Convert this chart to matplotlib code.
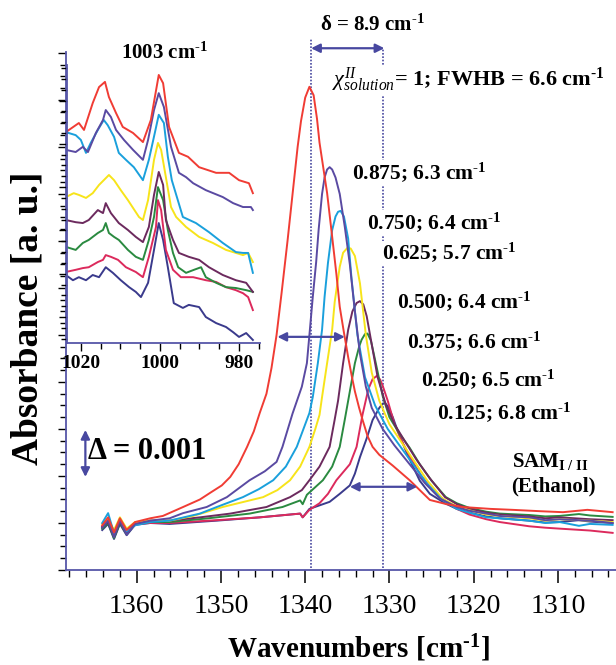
import numpy as np
import matplotlib.pyplot as plt
from matplotlib.ticker import MultipleLocator

plt.rcParams['font.family'] = ['Liberation Serif', 'DejaVu Serif']
plt.rcParams['mathtext.fontset'] = 'custom'
plt.rcParams['mathtext.rm'] = 'Liberation Serif'
plt.rcParams['mathtext.it'] = 'Liberation Serif:italic'
plt.rcParams['mathtext.bf'] = 'Liberation Serif:bold'

# main band: (wavenumber [cm-1], absorbance in units of 0.001)
main_1000 = [(1364.1, 0.95), (1363.4, 1.12), (1362.7, 0.80), (1362.0, 1.10), (1361.2, 0.85), (1360.2, 1.02),
             (1358.4, 1.10), (1356.9, 1.15), (1354.5, 1.34), (1352.5, 1.50), (1351.3, 1.64), (1349.9, 1.80),
             (1348.9, 1.98), (1347.9, 2.25), (1346.9, 2.62), (1346.1, 2.95), (1345.4, 3.34), (1344.6, 3.75),
             (1344.0, 4.30), (1343.4, 5.00), (1342.8, 5.90), (1342.1, 7.00), (1341.5, 8.00), (1340.9, 9.00),
             (1340.5, 9.55), (1340.0, 10.05), (1339.5, 10.28), (1339.0, 10.10), (1338.6, 9.60), (1338.3, 9.09),
             (1337.4, 8.02), (1336.8, 7.09), (1336.3, 6.30), (1335.9, 5.60), (1335.4, 5.05), (1334.9, 4.53),
             (1334.5, 4.15), (1334.1, 3.80), (1333.6, 3.45), (1333.2, 3.20), (1332.6, 2.85), (1332.0, 2.62),
             (1331.2, 2.45), (1329.6, 2.22), (1327.6, 1.91), (1325.2, 1.49), (1323.2, 1.40), (1321.3, 1.34),
             (1318.0, 1.30), (1315.4, 1.28), (1312.0, 1.25), (1309.4, 1.23), (1306.5, 1.28), (1303.5, 1.23)]
main_875 = [(1364.1, 0.90), (1363.4, 1.05), (1362.7, 0.70), (1362.0, 1.05), (1361.2, 0.75), (1360.2, 0.98),
            (1358.4, 1.05), (1356.1, 1.10), (1354.5, 1.21), (1351.7, 1.34), (1349.3, 1.55), (1346.6, 1.91),
            (1344.8, 2.10), (1343.4, 2.30), (1342.7, 2.62), (1341.5, 3.33), (1340.4, 3.90), (1339.8, 4.40),
            (1339.5, 5.00), (1339.1, 5.81), (1338.7, 6.55), (1338.4, 7.25), (1338.0, 8.00), (1337.7, 8.35),
            (1337.4, 8.52), (1337.1, 8.57), (1336.8, 8.52), (1336.4, 8.35), (1335.9, 8.00), (1335.3, 7.30),
            (1334.7, 6.50), (1334.1, 5.50), (1333.5, 4.60), (1332.8, 3.90), (1332.1, 3.45), (1330.8, 3.00),
            (1329.4, 2.65), (1327.6, 2.25), (1325.8, 1.85), (1324.0, 1.52), (1322.0, 1.34), (1320.5, 1.26),
            (1318.5, 1.20), (1316.9, 1.15), (1313.4, 1.12), (1311.5, 1.06), (1309.8, 1.08), (1306.2, 1.05),
            (1303.5, 1.00)]
main_750 = [(1364.1, 1.00), (1363.4, 1.21), (1362.7, 0.78), (1362.0, 1.08), (1361.2, 0.82), (1360.2, 0.95),
            (1358.4, 1.02), (1356.1, 1.05), (1352.5, 1.20), (1350.5, 1.34), (1347.4, 1.55), (1345.5, 1.72),
            (1343.8, 1.91), (1342.3, 2.20), (1341.0, 2.62), (1339.5, 3.34), (1339.1, 3.68), (1338.5, 4.40),
            (1338.0, 5.11), (1337.7, 5.81), (1337.3, 6.53), (1336.8, 7.23), (1336.4, 7.52), (1336.1, 7.62),
            (1335.8, 7.64), (1335.4, 7.52), (1334.9, 7.05), (1334.5, 6.20), (1333.8, 5.00), (1332.9, 4.10),
            (1331.7, 3.50), (1330.2, 3.00), (1328.8, 2.65), (1327.2, 2.25), (1325.6, 1.85), (1323.8, 1.50),
            (1322.0, 1.30), (1320.5, 1.22), (1318.5, 1.12), (1316.9, 1.10), (1313.4, 1.05), (1311.5, 1.00),
            (1309.8, 1.02), (1307.5, 0.94), (1306.2, 0.98), (1303.5, 0.96)]
main_625 = [(1364.1, 0.98), (1363.4, 1.08), (1362.7, 0.85), (1362.0, 1.12), (1361.2, 0.88), (1360.2, 1.02),
            (1358.4, 1.05), (1356.1, 1.05), (1353.3, 1.15), (1349.8, 1.34), (1345.0, 1.55), (1343.3, 1.70),
            (1341.8, 1.91), (1340.6, 2.20), (1339.5, 2.62), (1338.8, 3.00), (1338.3, 3.30), (1338.0, 3.68),
            (1337.4, 4.40), (1336.8, 5.11), (1336.5, 5.70), (1335.9, 6.45), (1335.5, 6.75), (1335.0, 6.85),
            (1334.6, 6.84), (1334.1, 6.68), (1333.5, 6.10), (1332.8, 5.00), (1332.1, 4.20), (1331.2, 3.60),
            (1330.0, 3.10), (1328.5, 2.70), (1327.0, 2.30), (1325.5, 1.90), (1323.7, 1.52), (1322.0, 1.35),
            (1320.5, 1.27), (1318.5, 1.18), (1316.9, 1.15), (1313.4, 1.10), (1311.5, 1.05), (1309.8, 1.08),
            (1306.2, 1.05), (1303.5, 1.02)]
main_500 = [(1364.1, 0.92), (1363.4, 1.02), (1362.7, 0.72), (1362.0, 1.02), (1361.2, 0.78), (1360.2, 1.00),
            (1358.4, 1.05), (1356.1, 1.05), (1352.5, 1.12), (1348.9, 1.20), (1344.6, 1.34), (1341.8, 1.55),
            (1340.4, 1.70), (1339.5, 1.91), (1338.3, 2.20), (1337.1, 2.62), (1336.5, 3.20), (1336.1, 3.60),
            (1335.5, 4.40), (1334.9, 5.11), (1334.4, 5.50), (1333.9, 5.68), (1333.5, 5.72), (1333.1, 5.65),
            (1332.7, 5.40), (1332.1, 4.80), (1331.4, 4.10), (1330.4, 3.50), (1329.4, 3.10), (1328.2, 2.75),
            (1326.8, 2.35), (1325.2, 1.95), (1323.4, 1.55), (1322.0, 1.40), (1320.5, 1.30), (1318.5, 1.22),
            (1316.9, 1.18), (1313.4, 1.14), (1311.5, 1.10), (1309.8, 1.12), (1306.2, 1.08), (1303.5, 1.06)]
main_375 = [(1364.1, 0.88), (1363.4, 1.00), (1362.7, 0.68), (1362.0, 1.00), (1361.2, 0.76), (1360.2, 0.98),
            (1358.4, 1.02), (1356.1, 1.02), (1351.5, 1.10), (1346.6, 1.20), (1342.7, 1.34), (1340.6, 1.48),
            (1340.3, 1.40), (1339.8, 1.60), (1337.9, 1.91), (1336.8, 2.20), (1335.9, 2.62), (1335.3, 3.20),
            (1334.8, 3.70), (1334.1, 4.40), (1333.6, 4.75), (1333.3, 4.90), (1332.9, 5.02), (1332.6, 5.03),
            (1332.2, 4.88), (1331.8, 4.55), (1331.5, 4.30), (1330.8, 3.70), (1330.0, 3.25), (1328.8, 2.90),
            (1327.6, 2.60), (1326.4, 2.25), (1325.0, 1.90), (1323.3, 1.55), (1322.0, 1.42), (1320.5, 1.32),
            (1318.5, 1.24), (1316.9, 1.20), (1313.4, 1.17), (1311.5, 1.14), (1309.8, 1.15), (1307.5, 1.19),
            (1306.2, 1.16), (1303.5, 1.13)]
main_250 = [(1364.1, 0.90), (1363.4, 1.08), (1362.7, 0.74), (1362.0, 1.04), (1361.2, 0.80), (1360.2, 0.98),
            (1358.4, 1.00), (1356.1, 1.00), (1350.5, 1.06), (1345.4, 1.12), (1340.6, 1.20), (1340.3, 1.12),
            (1339.5, 1.28), (1338.3, 1.42), (1337.3, 1.62), (1336.3, 1.91), (1334.7, 2.25), (1333.9, 2.62),
            (1333.2, 3.30), (1332.5, 3.85), (1332.0, 4.06), (1331.5, 4.13), (1331.1, 4.05), (1330.8, 3.92),
            (1330.2, 3.60), (1329.4, 3.10), (1328.4, 2.70), (1327.4, 2.35), (1326.2, 2.00), (1324.9, 1.70),
            (1323.2, 1.45), (1322.0, 1.30), (1320.5, 1.18), (1318.5, 1.08), (1316.9, 1.02), (1313.4, 0.93),
            (1311.5, 0.90), (1309.8, 0.88), (1306.2, 0.84), (1303.5, 0.79)]
main_125 = [(1364.1, 0.85), (1363.4, 0.98), (1362.7, 0.66), (1362.0, 0.98), (1361.2, 0.74), (1360.2, 0.96),
            (1358.4, 1.00), (1356.1, 0.98), (1350.5, 1.05), (1345.4, 1.12), (1340.6, 1.20), (1340.3, 1.12),
            (1339.5, 1.30), (1337.1, 1.45), (1335.9, 1.62), (1334.7, 1.80), (1334.1, 2.05), (1333.5, 2.40),
            (1332.7, 2.80), (1332.0, 3.19), (1331.2, 3.45), (1330.8, 3.54), (1330.5, 3.55), (1330.1, 3.46),
            (1329.6, 3.25), (1329.1, 3.00), (1328.2, 2.60), (1327.2, 2.20), (1326.4, 1.90), (1325.2, 1.62),
            (1323.4, 1.42), (1322.0, 1.30), (1320.5, 1.22), (1318.5, 1.14), (1316.9, 1.10), (1313.4, 1.05),
            (1311.5, 1.01), (1309.8, 1.02), (1307.5, 1.06), (1306.2, 1.03), (1303.5, 1.00)]

# inset 1003 cm-1 band: (wavenumber, offset absorbance)
ins_1000 = [(1023.8, 4.27), (1020.5, 4.48), (1019.2, 4.32), (1017.0, 4.94), (1015.4, 5.31), (1013.9, 5.43),
            (1012.9, 5.08), (1011.1, 4.71), (1009.4, 4.39), (1006.8, 4.25), (1004.3, 4.04), (1002.3, 4.55),
            (1000.3, 5.59), (999.2, 5.40), (997.7, 4.39), (995.2, 3.79), (992.9, 3.70), (990.1, 3.46),
            (985.8, 3.33), (982.5, 3.33), (980.0, 3.16), (977.5, 3.09), (976.5, 2.86)]
ins_875 = [(1023.8, 3.86), (1021.3, 3.81), (1019.5, 3.93), (1018.2, 3.81), (1016.2, 4.25), (1014.4, 4.55),
           (1013.7, 4.78), (1012.4, 4.62), (1011.1, 4.32), (1009.1, 4.09), (1006.8, 3.86), (1004.3, 3.63),
           (1003.0, 4.09), (1001.5, 4.78), (1000.3, 5.17), (999.0, 4.85), (997.2, 3.93), (995.2, 3.33),
           (993.4, 3.23), (991.6, 3.09), (988.4, 2.93), (984.1, 2.77), (981.5, 2.63), (979.0, 2.54),
           (977.0, 2.54), (976.5, 2.47)]
ins_750 = [(1023.8, 4.27), (1021.3, 4.20), (1020.0, 4.09), (1018.7, 3.79), (1017.5, 4.02), (1015.7, 4.32),
           (1014.2, 4.55), (1013.2, 4.43), (1011.6, 4.16), (1010.4, 3.79), (1008.6, 3.63), (1006.6, 3.46),
           (1004.3, 3.16), (1002.8, 3.63), (1001.3, 4.25), (1000.3, 4.67), (999.0, 4.48), (998.0, 3.70),
           (997.0, 3.16), (994.2, 2.31), (990.9, 2.17), (987.6, 1.96), (984.1, 1.71), (980.8, 1.50),
           (979.0, 1.48), (977.7, 1.48), (976.5, 1.02)]
ins_625 = [(1023.8, 2.77), (1021.8, 2.86), (1020.5, 2.82), (1018.7, 2.75), (1017.0, 2.86), (1015.4, 3.05),
           (1014.2, 3.16), (1012.9, 3.28), (1011.6, 3.16), (1009.9, 2.93), (1008.1, 2.70), (1005.3, 2.31),
           (1004.3, 2.24), (1003.0, 2.70), (1001.5, 3.63), (1000.5, 4.02), (999.7, 3.86), (998.5, 3.23),
           (997.2, 2.54), (995.9, 2.31), (993.4, 2.08), (990.1, 1.85), (986.6, 1.71), (983.3, 1.55),
           (980.8, 1.48), (979.0, 1.43), (977.7, 1.48), (976.5, 1.27)]
ins_500 = [(1023.8, 2.24), (1021.3, 2.19), (1019.5, 2.17), (1018.0, 2.24), (1015.7, 2.47), (1014.4, 2.40),
           (1013.7, 2.63), (1012.4, 2.40), (1010.4, 2.17), (1008.1, 2.01), (1006.1, 1.85), (1004.3, 1.73),
           (1002.8, 2.08), (1001.5, 2.82), (1000.3, 3.35), (999.2, 3.05), (998.5, 2.24), (996.7, 1.78),
           (995.2, 1.48), (992.7, 1.39), (990.1, 1.32), (987.6, 1.15), (984.1, 0.97), (980.8, 0.85),
           (978.2, 0.79), (976.5, 0.58)]
ins_375 = [(1023.8, 1.62), (1021.3, 1.55), (1019.5, 1.71), (1018.0, 1.78), (1015.7, 1.94), (1014.4, 2.01),
           (1013.7, 2.17), (1012.9, 1.94), (1011.6, 1.85), (1010.4, 1.78), (1008.1, 1.55), (1006.1, 1.39),
           (1004.3, 1.32), (1002.8, 1.78), (1001.5, 2.31), (1000.5, 3.00), (999.2, 2.70), (998.0, 2.01),
           (996.7, 1.48), (995.4, 1.15), (993.4, 1.02), (991.4, 1.09), (989.6, 1.15), (988.4, 0.92),
           (985.8, 0.79), (983.3, 0.69), (980.8, 0.67), (978.2, 0.62), (976.5, 0.58)]
ins_250 = [(1023.8, 1.04), (1021.3, 1.09), (1019.5, 1.13), (1018.0, 1.15), (1015.7, 1.27), (1014.4, 1.32),
           (1013.7, 1.43), (1012.4, 1.39), (1010.6, 1.32), (1008.6, 1.15), (1006.1, 1.04), (1004.3, 0.92),
           (1002.8, 1.39), (1001.0, 2.08), (1000.5, 2.70), (999.7, 2.47), (998.5, 1.55), (996.7, 1.09),
           (994.7, 0.92), (991.6, 0.92), (988.4, 0.85), (985.8, 0.81), (983.3, 0.69), (980.8, 0.62),
           (979.0, 0.55), (977.7, 0.46), (976.5, 0.16)]
ins_125 = [(1023.8, 0.97), (1022.0, 0.85), (1020.5, 0.92), (1018.7, 0.85), (1017.0, 0.97), (1015.4, 0.92),
           (1013.7, 1.15), (1011.9, 1.02), (1009.9, 0.85), (1007.8, 0.69), (1006.1, 0.58), (1004.8, 0.46),
           (1003.0, 0.79), (1001.5, 1.55), (1000.3, 2.17), (999.2, 1.78), (998.0, 1.15), (996.5, 0.32),
           (994.2, 0.21), (992.7, 0.28), (990.1, 0.23), (988.4, 0.00), (985.8, -0.14), (983.3, -0.23),
           (981.5, -0.35), (980.0, -0.46), (978.2, -0.37), (976.5, -0.53)]

fractions = ['0.875', '0.750', '0.625', '0.500', '0.375', '0.250', '0.125']
fwhb = ['6.3', '6.4', '5.7', '6.4', '6.6', '6.5', '6.8']

main_series = [main_1000, main_875, main_750, main_625, main_500, main_375, main_250, main_125]
inset_series = [ins_1000, ins_875, ins_750, ins_625, ins_500, ins_375, ins_250, ins_125]
colors = ['#f03c34', '#5a4aa2', '#1aa0dc', '#f7e41a', '#6c2a5e', '#2a8a40', '#dc2a5c', '#3a3a8c']
arrow_c = '#4848a0'
spine_c = '#5656a8'
cm1 = 'cm$^{\\mathbf{\u2010 1}}$'   # cm^-1 with a short hyphen

fig = plt.figure(figsize=(6.16, 6.65), dpi=100)
ax = fig.add_axes([66 / 616, 95 / 665, 550 / 616, 518 / 665])

for s, c in list(zip(main_series, colors))[::-1]:
    d = np.array(s)
    ax.plot(d[:, 0], d[:, 1], color=c, lw=1.4, zorder=3)

ax.set_xlim(1368.4, 1303.1)
ax.set_ylim(0, 11.02)
ax.xaxis.set_major_locator(MultipleLocator(10))
ax.xaxis.set_minor_locator(MultipleLocator(2))
ax.yaxis.set_major_locator(MultipleLocator(1))
ax.yaxis.set_minor_locator(MultipleLocator(0.25))
ax.tick_params(axis='x', which='major', length=9, width=1.1, pad=8, labelsize=20, direction='out')
ax.tick_params(axis='x', which='minor', length=5, width=1.0, direction='out')
ax.tick_params(axis='y', which='major', length=6, width=1.0, direction='out', labelleft=False)
ax.tick_params(axis='y', which='minor', length=4, width=1.0, direction='out')
for side in ['top', 'right']:
    ax.spines[side].set_visible(False)
for side in ['left', 'bottom']:
    ax.spines[side].set_color(spine_c)
    ax.spines[side].set_linewidth(1.3)

# dotted guide lines and arrows
dot = dict(color=arrow_c, ls=(0, (1, 1)), lw=1.2, clip_on=False, zorder=1)
ax.plot([1339.3, 1339.3], [0.05, 11.32], **dot)
ax.plot([1330.8, 1330.8], [0.05, 11.1], **dot)
arr = dict(arrowstyle='<|-|>', color=arrow_c, lw=1.6, mutation_scale=13, shrinkA=0, shrinkB=0)
ax.annotate('', xy=(1330.6, 11.1), xytext=(1339.3, 11.1), arrowprops=arr, annotation_clip=False)
ax.annotate('', xy=(1335.3, 4.96), xytext=(1343.3, 4.96), arrowprops=arr, zorder=4)
ax.annotate('', xy=(1326.7, 1.77), xytext=(1334.7, 1.77), arrowprops=arr, zorder=4)
ax.annotate('', xy=(1366.1, 1.98), xytext=(1366.1, 2.98), arrowprops=arr)

box = dict(facecolor='white', edgecolor='none', pad=0.5)
ax.text(1332.0, 11.6, 'δ = 8.9 ' + cm1, fontsize=15, fontweight='bold',
        ha='center', va='center', clip_on=False)
ax.text(1336.8, 10.43, '$\\chi^{II}_{solution}$= 1; FWHB = 6.6 ' + cm1, fontsize=16,
        fontweight='bold', ha='left', va='center', bbox=box, zorder=5)
label_pos = [(1334.5, 8.45), (1332.7, 7.38), (1330.9, 6.74), (1329.1, 5.70),
             (1327.9, 4.85), (1326.2, 4.04), (1324.4, 3.34)]
for (x, y), fr, fw in zip(label_pos, fractions, fwhb):
    ax.text(x, y, f'{fr}; {fw} ' + cm1, fontsize=15.5, fontweight='bold',
            ha='left', va='center', bbox=box, zorder=5)
ax.text(1315.4, 2.30, 'SAM$_{\\mathbf{I\\ /\\ II}}$', fontsize=15, fontweight='bold', ha='left', va='center')
ax.text(1315.5, 1.77, '(Ethanol)', fontsize=15, fontweight='bold', ha='left', va='center')
ax.text(1365.8, 2.53, 'Δ = 0.001', fontsize=22, fontweight='bold', ha='left', va='center')

fig.text(358 / 616, 1 - 648 / 665, 'Wavenumbers [' + cm1 + ']', fontsize=21, fontweight='bold',
         ha='center', va='center')
fig.text(28 / 616, 1 - 318 / 665, 'Absorbance [a. u.]', fontsize=27, fontweight='bold',
         ha='center', va='center', rotation=90)

# inset
axin = fig.add_axes([67 / 616, 322 / 665, 193 / 616, 278 / 665])
axin.set_facecolor('none')
for s, c in list(zip(inset_series, colors))[::-1]:
    d = np.array(s)
    axin.plot(d[:, 0], d[:, 1], color=c, lw=1.4)
axin.set_xlim(1023.5, 974.7)
axin.set_ylim(-0.6, 5.82)
axin.xaxis.set_major_locator(MultipleLocator(20))
axin.xaxis.set_minor_locator(MultipleLocator(5))
axin.yaxis.set_major_locator(MultipleLocator(1))
axin.yaxis.set_minor_locator(MultipleLocator(0.25))
axin.tick_params(axis='x', which='major', length=6, width=1.0, pad=3, labelsize=14, direction='out')
axin.tick_params(axis='x', which='minor', length=4, width=1.0, direction='out')
axin.tick_params(axis='y', which='major', length=6, width=1.0, direction='out', labelleft=False)
axin.tick_params(axis='y', which='minor', length=4, width=1.0, direction='out')
for lab in axin.get_xticklabels():
    lab.set_fontweight('bold')
for side in ['top', 'right']:
    axin.spines[side].set_visible(False)
for side in ['left', 'bottom']:
    axin.spines[side].set_color(spine_c)
    axin.spines[side].set_linewidth(1.3)
fig.text(165 / 616, 1 - 53 / 665, '1003 ' + cm1, fontsize=15, fontweight='bold',
         ha='center', va='center')

fig.savefig('out.png', dpi=100)
